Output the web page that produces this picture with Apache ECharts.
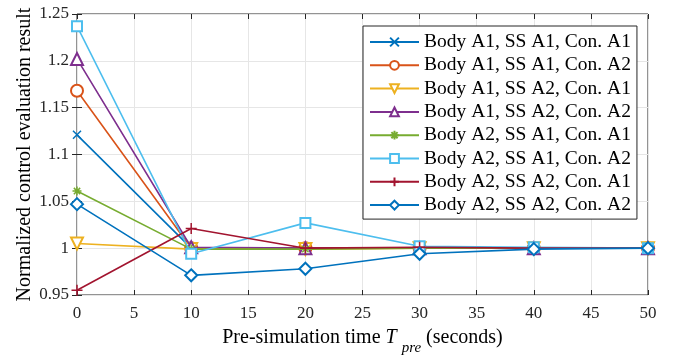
<!DOCTYPE html>
<html><head><meta charset="utf-8">
<script src="https://cdn.jsdelivr.net/npm/echarts@6/dist/echarts.min.js"></script>
<style>html,body{margin:0;padding:0;background:#fff;}#c{width:676px;height:355px;}</style>
</head><body><div id="c"></div>
<script>
var xValues = [0, 10, 20, 30, 40, 50];
var names = ['Body A1, SS A1, Con. A1','Body A1, SS A1, Con. A2','Body A1, SS A2, Con. A1','Body A1, SS A2, Con. A2','Body A2, SS A1, Con. A1','Body A2, SS A1, Con. A2','Body A2, SS A2, Con. A1','Body A2, SS A2, Con. A2'];
var s1 = [1.121, 1.000, 1.000, 1.000, 1.000, 1.000];
var s2 = [1.168, 1.000, 1.000, 1.000, 1.000, 1.000];
var s3 = [1.005, 0.999, 0.999, 1.000, 1.000, 1.000];
var s4 = [1.202, 1.001, 1.000, 1.000, 1.000, 1.000];
var s5 = [1.061, 0.999, 0.999, 1.000, 1.000, 1.000];
var s6 = [1.237, 0.994, 1.027, 1.002, 1.001, 1.000];
var s7 = [0.955, 1.021, 1.000, 1.001, 1.000, 1.000];
var s8 = [1.047, 0.971, 0.978, 0.994, 0.999, 1.000];
var yTicks = [0.95, 1, 1.05, 1.1, 1.15, 1.2, 1.25];
var xTicks = [0, 5, 10, 15, 20, 25, 30, 35, 40, 45, 50];

var allData = [s1,s2,s3,s4,s5,s6,s7,s8];
var colors = ['#0072BD','#D95319','#EDB120','#7E2F8E','#77AC30','#4DBEEE','#A2142F','#0072BD'];
var symbols = [
  'path://M0,0L10,10M10,0L0,10',
  'emptyCircle',
  'emptyTriangle',
  'emptyTriangle',
  'path://M5,0L5,10M0,5L10,5M1.5,1.5L8.5,8.5M8.5,1.5L1.5,8.5',
  'emptyRect',
  'path://M5,0L5,10M0,5L10,5',
  'emptyDiamond'
];
var rot = [0,0,180,0,0,0,0,0];
var sizes = [8,12,12,12,9,10,11,12];
var serif = '"Liberation Serif","Times New Roman",serif';

var series = allData.map(function(d,i){
  return {
    name: names[i], type:'line',
    data: xValues.map(function(x,j){return [x,d[j]];}),
    symbol: symbols[i], symbolSize: sizes[i], symbolRotate: rot[i],
    showAllSymbol: true,
    color: colors[i],
    lineStyle:{color:colors[i], width:1.6},
    itemStyle:{borderColor:colors[i], borderWidth:1.5},
    emphasis:{disabled:true},
    z: 2+i
  };
});

var chart = echarts.init(document.getElementById('c'), null, {renderer:'canvas'});
chart.setOption({
  animation:false,
  backgroundColor:'#fff',
  grid:{left:77,right:28,top:14,bottom:60,show:true,borderColor:'#262626',borderWidth:1,backgroundColor:'transparent',
        containLabel:false, outerBoundsMode:'none'},
  legend:{
    orient:'vertical', left:363, top:26,
    data:names,
    backgroundColor:'#fff', borderColor:'#262626', borderWidth:1,
    padding:[6,6,4,6],
    itemWidth:49, itemHeight:11, itemGap:3.3,
    textStyle:{fontFamily:serif, fontSize:19.5, color:'#000', lineHeight:19},
    selectedMode:false
  },
  xAxis:[{
    type:'value', min:0, max:50, interval:5,
    name:'{n|Pre-simulation time }{t|T }{s|pre}{n| (seconds)}',
    nameLocation:'middle', nameGap:24,
    nameTextStyle:{rich:{
      n:{fontFamily:serif,fontSize:20,color:'#000'},
      t:{fontFamily:serif,fontSize:20,fontStyle:'italic',color:'#000'},
      s:{fontFamily:serif,fontSize:15,fontStyle:'italic',color:'#000',padding:[22,0,0,0]}
    }},
    axisLine:{show:false},
    axisTick:{inside:true,length:5,lineStyle:{color:'#262626'}},
    axisLabel:{fontFamily:serif,fontSize:17,color:'#262626',margin:10},
    splitLine:{show:true,lineStyle:{color:'#e6e6e6',width:1}}
  },{
    type:'value', min:0, max:50, interval:5, position:'top',
    axisLine:{show:false}, axisTick:{inside:true,length:5,lineStyle:{color:'#262626'}},
    axisLabel:{show:false}, splitLine:{show:false}
  }],
  yAxis:[{
    type:'value', min:0.95, max:1.25, interval:0.05,
    name:'Normalized control evaluation result',
    nameLocation:'middle', nameGap:42, nameMoveOverlap:false,
    nameTextStyle:{fontFamily:serif,fontSize:20,color:'#000'},
    axisLine:{show:false},
    axisTick:{inside:true,length:5,lineStyle:{color:'#262626'}},
    axisLabel:{fontFamily:serif,fontSize:17,color:'#262626',margin:8,
      formatter:function(v){return String(parseFloat(v.toFixed(2)));}},
    splitLine:{show:true,lineStyle:{color:'#e6e6e6',width:1}}
  },{
    type:'value', min:0.95, max:1.25, interval:0.05, position:'right',
    axisLine:{show:false}, axisTick:{inside:true,length:5,lineStyle:{color:'#262626'}},
    axisLabel:{show:false}, splitLine:{show:false}
  }],
  series: series
});
</script>
</body></html>
